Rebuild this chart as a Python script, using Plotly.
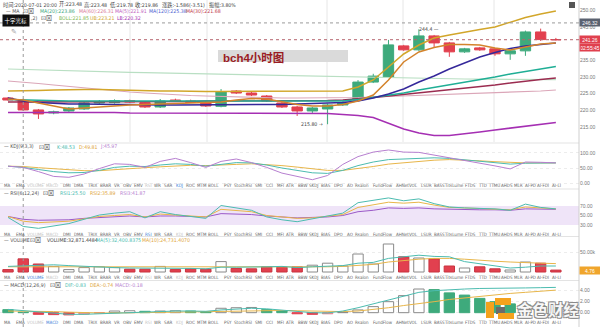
import plotly.graph_objects as go

W, H = 600, 327
def X(px): return px / W
def Y(py): return 1 - py / H

FONT = "Liberation Sans, Noto Sans CJK SC, sans-serif"
NARROW = "Liberation Sans Narrow, DejaVu Sans Condensed, Liberation Sans, Noto Sans CJK SC, sans-serif"
GREEN, RED = "#3eaa7c", "#e2404f"
TEAL, YEL, PURP = "#4cbcb0", "#e8b64a", "#b77fd0"

# ---------------- data ----------------
idx = list(range(37))
opens = [223.7, 222.9, 220.1, 219.2, 219.8, 220.4, 222.2, 222.3, 222.9, 222.3, 221.0, 223.1, 222.8, 222.4,
         221.2, 225.8, 225.2, 224.3, 222.2, 221.0, 219.8, 220.4, 221.6, 223.1, 228.5, 230.0, 239.4, 238.2,
         242.4, 240.3, 237.6, 238.8, 238.5, 237.0, 237.9, 243.6, 241.3]
highs = [224.0, 223.5, 220.4, 219.9, 221.0, 222.6, 223.1, 223.3, 223.2, 222.6, 223.4, 223.5, 223.2, 222.8,
         226.4, 226.1, 225.6, 224.6, 222.6, 221.3, 221.0, 222.0, 222.7, 229.1, 231.0, 241.2, 239.7, 244.4,
         242.7, 240.6, 238.8, 239.1, 238.8, 238.2, 244.0, 244.6, 241.8]
lows = [222.9, 219.8, 217.4, 218.8, 219.5, 220.1, 221.9, 222.0, 222.3, 220.7, 220.7, 222.6, 222.2, 221.0,
        220.9, 224.9, 224.3, 222.5, 220.7, 218.3, 219.2, 215.8, 221.3, 222.8, 228.2, 229.7, 237.9, 237.9,
        238.8, 236.1, 237.3, 237.9, 236.4, 235.2, 236.4, 240.9, 241.0]
closes = [223.1, 220.1, 218.9, 219.5, 220.7, 222.2, 222.5, 222.9, 222.5, 221.0, 222.8, 222.8, 222.4, 221.3,
          225.5, 225.2, 224.6, 222.8, 221.0, 219.8, 220.7, 221.6, 222.2, 228.5, 230.3, 239.7, 238.2, 242.4,
          240.3, 237.6, 238.5, 238.2, 237.0, 237.9, 243.6, 241.3, 241.26]

boll_ub = [225.81, 225.81, 225.96, 226.11, 226.27, 226.27, 226.27, 226.11, 226.11, 225.96, 225.81, 225.81,
           225.66, 225.66, 225.66, 225.66, 225.66, 225.66, 225.66, 225.66, 225.66, 225.81, 225.81, 227.02,
           229.13, 233.04, 236.96, 239.67, 241.78, 242.68, 243.58, 244.34, 245.09, 246.45, 247.95, 249.0, 249.91]
boll_lb = [219.34, 219.34, 219.49, 219.49, 219.49, 219.49, 219.34, 219.34, 219.19, 219.19, 219.19, 219.19,
           219.19, 219.19, 219.19, 219.19, 219.19, 219.19, 219.19, 219.19, 219.04, 219.04, 218.74, 218.43,
           217.83, 216.17, 214.37, 213.16, 212.41, 212.41, 212.86, 213.46, 214.07, 214.67, 215.27, 215.87, 216.33]
ma5 = [223.40, 223.10, 222.20, 221.30, 220.39, 220.69, 221.00, 221.45, 221.60, 221.75, 221.90, 222.05,
       222.20, 222.20, 222.50, 223.10, 223.55, 223.40, 222.50, 221.75, 221.30, 221.30, 221.75, 222.80,
       224.61, 229.13, 234.55, 237.56, 238.92, 239.82, 239.82, 239.67, 238.77, 238.16, 239.07, 239.97, 240.27]
ma10 = [223.71, 222.80, 222.35, 222.05, 221.90, 221.90, 221.75, 221.75, 221.75, 221.60, 221.60, 221.60,
        221.60, 221.60, 221.60, 221.60, 221.60, 221.60, 221.75, 221.90, 222.05, 222.20, 222.35, 222.80,
        223.71, 224.91, 226.42, 228.52, 230.33, 232.44, 234.25, 236.05, 237.41, 238.62, 239.37, 239.82, 240.27]
ma20 = [223.25, 223.10, 222.95, 222.95, 222.80, 222.80, 222.80, 222.80, 222.65, 222.65, 222.65, 222.65,
        222.65, 222.65, 222.65, 222.65, 222.65, 222.65, 222.65, 222.65, 222.65, 222.65, 222.80, 223.25,
        223.86, 224.61, 225.21, 226.11, 226.87, 227.62, 228.37, 229.28, 230.03, 230.93, 231.69, 232.44, 233.19]
ma30 = [222.50, 222.50, 222.50, 222.50, 222.50, 222.50, 222.50, 222.65, 222.65, 222.65, 222.65, 222.65,
        222.65, 222.80, 222.80, 222.80, 222.80, 222.80, 222.80, 222.95, 222.95, 222.95, 223.10, 223.40,
        223.86, 224.31, 224.76, 225.21, 225.66, 226.11, 226.57, 227.02, 227.62, 228.22, 228.83, 229.28, 229.73]
ma60 = [228.83, 228.52, 228.07, 227.62, 227.17, 226.72, 226.27, 225.81, 225.51, 225.21, 224.91, 224.61,
        224.46, 224.31, 224.16, 224.01, 223.86, 223.86, 223.71, 223.71, 223.71, 223.71, 223.71, 223.86,
        224.01, 224.16, 224.31, 224.46, 224.61, 224.76, 224.91, 225.06, 225.21, 225.51, 225.66, 225.81, 226.11]
ma120 = [232.44, 232.29, 232.14, 232.05, 231.93, 231.84, 231.69, 231.54, 231.45, 231.33, 231.24, 231.09,
         230.93, 230.84, 230.72, 230.63, 230.54, 230.45, 230.33, 230.24, 230.15, 230.03, 229.97, 229.88,
         229.82, 229.73, 229.67, 229.61, 229.55, 229.49, 229.43, 229.37, 229.34, 229.31, 229.28, 229.25, 229.22]

kdj_k = [56, 52, 45, 38, 34, 35, 42, 52, 56, 55, 60, 64, 62, 56, 62, 68, 67, 60, 50, 42, 34, 32, 42, 58,
         70, 78, 80, 83, 84, 82, 77, 71, 66, 63, 66, 67, 67]
kdj_d = [56, 55, 51, 47, 43, 41, 41, 45, 49, 51, 54, 57, 59, 58, 59, 62, 64, 62, 58, 53, 47, 42, 42, 48,
         55, 63, 68, 73, 76, 78, 77, 74, 71, 68, 67, 67, 67]
kdj_j = [56, 52, 38, 22, 19, 30, 48, 64, 62, 52, 72, 82, 68, 52, 72, 80, 68, 52, 33, 22, 11, 25, 62, 88,
         103, 110, 103, 102, 93, 85, 77, 68, 57, 47, 70, 69, 67]

rsi6 = [46, 27, 23, 28, 33, 42, 51, 55, 58, 45, 58, 52, 48, 44, 71, 66, 61, 47, 41, 37, 43, 50, 55, 77,
        82, 87, 81, 85, 75, 68, 66, 65, 64, 61, 74, 67, 64]
rsi12 = [48, 38, 35, 36, 38, 43, 48, 50, 52, 47, 53, 51, 49, 47, 63, 60, 58, 50, 47, 44, 45, 48, 52, 67,
         72, 78, 76, 78, 72, 67, 66, 65, 64, 62, 68, 66, 64]
rsi24 = [48, 42, 40, 40, 41, 44, 46, 48, 49, 47, 49, 49, 48, 47, 54, 53, 52, 49, 47, 45, 46, 47, 50, 58,
         61, 66, 65, 66, 64, 63, 63, 62, 62, 61, 64, 63, 63]

volume_k = [6, 32.9, 20, 14, 6, 11, 13, 11, 7, 7, 14, 6, 8, 7, 26, 9, 8, 13, 12, 13, 17, 22, 15, 45, 20,
            70, 38, 35, 33, 15, 10, 13, 8, 5, 25, 22, 4.76]
vol_ma5 = [14, 15, 17, 18, 16, 14, 12, 11, 10, 10, 10, 9, 9, 8, 12, 12, 12, 13, 14, 11, 13, 15, 16, 22,
           24, 34, 38, 42, 39, 38, 26, 21, 16, 10, 12, 15, 15]
vol_ma10 = [13, 13, 13, 13, 13, 13, 13, 12, 12, 12, 12, 12, 12, 12, 12, 12, 12, 12, 12, 12, 12, 13, 14,
            17, 19, 25, 29, 32, 34, 34, 32, 29, 27, 25, 23, 22, 21]

macd_hist = [0.55, 0.1, -0.3, -0.35, -0.4, -0.25, -0.05, 0.3, 0.35, 0.25, 0.3, 0.35, 0.3, 0.2, 0.8, 0.9,
             0.95, 0.55, 0.3, -0.2, -0.3, -0.2, 0.05, 0.5, 1.1, 2.0, 3.1, 4.3, 4.2, 3.6, 3.2, 2.6, 2.0,
             1.6, 1.4, 1.2, 1.0]
macd_dif = [0.6, 0.4, 0.1, -0.1, -0.3, -0.3, -0.2, 0.0, 0.1, 0.1, 0.2, 0.3, 0.3, 0.25, 0.5, 0.7, 0.8,
            0.7, 0.5, 0.2, 0.0, -0.05, 0.3, 0.9, 1.6, 2.4, 3.1, 3.7, 4.0, 4.2, 4.3, 4.4, 4.4, 4.45, 4.5,
            4.55, 4.6]
macd_dea = [0.3, 0.3, 0.25, 0.2, 0.1, 0.0, -0.05, -0.05, -0.05, 0.0, 0.05, 0.1, 0.15, 0.15, 0.2, 0.3,
            0.35, 0.4, 0.4, 0.35, 0.3, 0.25, 0.2, 0.3, 0.55, 0.9, 1.3, 1.6, 2.0, 2.4, 2.7, 3.0, 3.3, 3.5,
            3.7, 3.9, 4.1]

TABS = ["MA", "EMA", "VOLUME", "MACD", "DMI", "DMA", "TRIX", "BRAR", "VR", "OBV", "EMV", "RSI", "WR",
        "SAR", "KDJ", "ROC", "MTM", "BOLL", "PSY", "StochRSI", "SMI", "CCI", "MFI", "ATR", "BBW", "SKDJ",
        "BIAS", "DPO", "AO", "Rsalon", "FundFlow", "AHNetVOL", "LSUR", "BASS", "TitsLume", "FTDS", "TTD",
        "TTMU", "AHDS", "MLR", "AI-PD", "AI-FDI", "AI-LI"]
TAB_X = [7, 20, 35, 52, 67, 79, 92, 105, 117, 127, 138, 148, 158, 168, 179, 190, 202, 213, 228, 243, 258,
         269, 280, 290, 302, 314, 326, 339, 350, 362, 383, 407, 426, 439, 454, 470, 482, 494, 507, 518,
         530, 543, 556]

# ---------------- figure ----------------
fig = go.Figure()

fig.add_trace(go.Candlestick(
    x=idx, open=opens, high=highs, low=lows, close=closes, xaxis="x", yaxis="y",
    increasing=dict(line=dict(color=GREEN, width=1), fillcolor=GREEN),
    decreasing=dict(line=dict(color=RED, width=1), fillcolor=RED),
    whiskerwidth=0, hoverinfo="skip"))

main_lines = [
    (ma120, "#b9dfc3", 1.2), (ma60, "#dba6b8", 1.2), (ma30, "#9b2c50", 1.3),
    (ma20, "#1fae95", 1.4), (ma10, "#35289a", 1.5), (boll_lb, "#a52fb3", 1.6),
    (boll_ub, "#d2a62a", 1.5), (ma5, "#d4832c", 1.5)]
for vals, col, w in main_lines:
    fig.add_trace(go.Scatter(x=idx, y=vals, mode="lines", line=dict(color=col, width=w),
                             xaxis="x", yaxis="y", hoverinfo="skip"))

for vals, col in [(kdj_d, YEL), (kdj_k, TEAL), (kdj_j, PURP)]:
    fig.add_trace(go.Scatter(x=idx, y=vals, mode="lines", line=dict(color=col, width=1),
                             xaxis="x2", yaxis="y2", hoverinfo="skip"))

for vals, col in [(rsi24, "#9b59c8"), (rsi12, YEL), (rsi6, TEAL)]:
    fig.add_trace(go.Scatter(x=idx, y=vals, mode="lines", line=dict(color=col, width=1),
                             xaxis="x3", yaxis="y3", hoverinfo="skip"))

up = [c >= o for o, c in zip(opens, closes)]
fig.add_trace(go.Bar(
    x=idx, y=volume_k, width=0.68, xaxis="x4", yaxis="y4", hoverinfo="skip",
    marker=dict(color=["#ffffff" if u else RED for u in up],
                line=dict(color=["#8a8a8a" if u else "#c8323f" for u in up], width=1))))
for vals, col in [(vol_ma10, YEL), (vol_ma5, TEAL)]:
    fig.add_trace(go.Scatter(x=idx, y=vals, mode="lines", line=dict(color=col, width=1),
                             xaxis="x4", yaxis="y4", hoverinfo="skip"))

mfill, mline = [], []
for i, v in enumerate(macd_hist):
    prev = macd_hist[i - 1] if i > 0 else v + 0.1
    if v >= 0:
        if v >= prev:
            mfill.append("#ffffff"); mline.append("#8a8a8a")
        else:
            mfill.append(GREEN); mline.append(GREEN)
    else:
        if v <= prev:
            mfill.append(RED); mline.append(RED)
        else:
            mfill.append("#f2b8be"); mline.append("#e07a85")
fig.add_trace(go.Bar(x=idx, y=macd_hist, width=0.68, xaxis="x5", yaxis="y5", hoverinfo="skip",
                     marker=dict(color=mfill, line=dict(color=mline, width=1))))
for vals, col in [(macd_dea, YEL), (macd_dif, TEAL)]:
    fig.add_trace(go.Scatter(x=idx, y=vals, mode="lines", line=dict(color=col, width=1),
                             xaxis="x5", yaxis="y5", hoverinfo="skip"))

# ---------------- axes ----------------
XR = [-0.526, 37.52]
XD = [0, 579 / 600]
def xax(anchor):
    d = dict(range=XR, domain=XD, showgrid=False, showticklabels=False, zeroline=False,
             showline=False, ticks="", anchor=anchor, fixedrange=True)
    if anchor != "y":
        d["matches"] = "x"
    return d

def yax(py0, py1, rng, tv, tt, grid=False):
    return dict(domain=[Y(py1), Y(py0)], range=rng, side="right", anchor="x", showgrid=grid,
                gridcolor="#ececec", griddash="dot", zeroline=False, showline=False, ticks="",
                tickvals=tv, ticktext=tt, tickfont=dict(size=5, color="#777", family=FONT),
                fixedrange=True)

layout = dict(
    width=W, height=H, autosize=False, margin=dict(l=0, r=0, t=0, b=0),
    paper_bgcolor="#ffffff", plot_bgcolor="#ffffff", showlegend=False, bargap=0,
    boxgap=0.15, boxgroupgap=0.2,
    font=dict(family=FONT, size=5, color="#555"),
    xaxis=dict(**xax("y"), rangeslider=dict(visible=False)),
    xaxis2=xax("y2"), xaxis3=xax("y3"), xaxis4=xax("y4"), xaxis5=xax("y5"),
    yaxis=yax(0, 142, [210.45, 253.22], [215, 220, 225, 230, 235, 245, 250],
              ["215.00", "220.00", "225.00", "230.00", "235.00", "245.00", "250.00"]),
    yaxis2=yax(143, 187, [-13.3, 133.3], [0, 50, 100], ["0.00", "50.00", "100.00"], True),
    yaxis3=yax(189, 231, [17.4, 105.8], [30, 50, 70], ["30.00", "50.00", "70.00"]),
    yaxis4=yax(237, 275, [-7.5, 87.5], [50], ["50.00k"], True),
    yaxis5=yax(281, 320, [-1.33, 5.76], [0, 2, 4], ["0.00", "2.00", "4.00"], True),
)
for k in ["yaxis2", "yaxis3", "yaxis4", "yaxis5"]:
    layout[k]["anchor"] = "x" + k[-1]
fig.update_layout(**layout)

# ---------------- shapes ----------------
shapes = []
def hline(py, x0=0, x1=579, color="#e3e3e3", dash="solid", w=1):
    shapes.append(dict(type="line", xref="paper", yref="paper", x0=X(x0), x1=X(x1), y0=Y(py), y1=Y(py),
                       line=dict(color=color, width=w, dash=dash)))
def rect(x0, y0, x1, y1, fill, line=None, layer="above"):
    shapes.append(dict(type="rect", xref="paper", yref="paper", x0=X(x0), x1=X(x1), y0=Y(y1), y1=Y(y0),
                       fillcolor=fill, line=dict(width=0 if line is None else 1, color=line or fill),
                       layer=layer))

# RSI band
shapes.append(dict(type="rect", xref="paper", yref="y3", x0=0, x1=XD[1], y0=30, y1=70,
                   fillcolor="#efe4f8", line=dict(width=0), layer="below"))
# vertical grid lines in main panel
for gx in [130, 207, 327, 403, 494]:
    shapes.append(dict(type="line", xref="paper", yref="paper", x0=X(gx), x1=X(gx), y0=Y(142), y1=1,
                       line=dict(color="#e6e6e6", width=1), layer="below"))
# panel separators
for py in [143, 189, 236.5, 280.5]:
    hline(py)
# right axis line
shapes.append(dict(type="line", xref="paper", yref="paper", x0=XD[1], x1=XD[1], y0=0, y1=1,
                   line=dict(color="#cfcfcf", width=1)))
# crosshair
shapes.append(dict(type="line", xref="x", yref="paper", x0=1, x1=1, y0=0, y1=1,
                   line=dict(color="#9a9a9a", width=1, dash="dot")))
shapes.append(dict(type="line", xref="paper", yref="y", x0=0, x1=XD[1], y0=246.32, y1=246.32,
                   line=dict(color="#9a9a9a", width=1, dash="dot")))
# current price line
shapes.append(dict(type="line", xref="paper", yref="y", x0=0, x1=XD[1], y0=241.26, y1=241.26,
                   line=dict(color="#b5646e", width=1, dash="dot")))
# label box behind title
rect(218, 50, 348, 62, "#dadada", layer="below")
# small icon top right
rect(569, 2, 575, 8, "#555555")
# watermark logo blocks
rect(495, 298, 511, 305, "#f4a21d")
rect(486, 302, 494, 318, "#f4a21d")
rect(496, 307, 505, 314, "#6b6b6b")
rect(498, 313, 514, 319, "#f4a21d")
fig.update_layout(shapes=shapes)

# ---------------- annotations ----------------
anns = []
def ann(text, px, py, color="#555", size=5.2, xanchor="left", family=NARROW, **kw):
    d = dict(text=text, x=X(px), y=Y(py), xref="paper", yref="paper", xanchor=xanchor,
             yanchor="middle", showarrow=False, font=dict(size=size, color=color, family=family))
    d.update(kw)
    anns.append(d)

# main header rows
for t, px in [("时间:2020-07-01 20:00", 1), ("开:223.48", 57), ("高:223.48", 82), ("低:219.78", 108),
              ("收:219.86", 133), ("涨跌:-1.586(-3.51)", 160), ("振幅:3.80%", 207)]:
    ann(t, px, 4.5, "#444")
ann("— MA", 4, 11, "#555")
ann("⊡⊠", 21, 11, "#444", 6, family=FONT)
for t, px, c in [("MA(20):223.86", 38, "#3aa57a"), ("MA(60):226.31", 77, "#d97a96"),
                 ("MA(5):221.91", 113, "#c25fc0"), ("MA(120):225.38", 147, "#4a5bd0"),
                 ("MA(30):221.68", 184, "#c0394b")]:
    ann(t, px, 11, c)
ann(",2)", 29, 17.5, "#555")   # tail of the BOLL(20,2) label, the rest hidden by the tooltip
ann("⊡⊠", 39, 17.5, "#444", 6, family=FONT)
for t, px, c in [("BOLL:221.85", 57, "#7fb84f"), ("UB:223.21", 88, "#d2a62a"), ("LB:220.32", 115, "#a52fb3")]:
    ann(t, px, 17.5, c)
ann("十字光标", 15.5, 20, "#ffffff", 5.5, xanchor="center", family=FONT, bgcolor="#111111", borderpad=1.5)
ann("✎", 14, 31, "#999", 7, xanchor="center", family=FONT)

# title label
ann("<b>bch4小时图</b>", 221, 57, "#9a1c24", 11.5, family=FONT)
# extreme labels
ann("215.80 →", 325, 124, "#444", 5.2, xanchor="right")
ann("244.4 —", 417, 28.5, "#444", 5.2)

# right boxes
for t, py, bg in [("246.32", 22.7, "#5b6270"), ("241.26", 39.7, "#e0404e"),
                  ("02:55:45", 47, "#e0404e"), ("4.76", 270.5, "#f0a52c")]:
    ann(t, 590, py, "#ffffff", 5, xanchor="center", family=FONT, bgcolor=bg, width=19, borderpad=0.5)

# panel headers
def header(py, name, icon_x, items):
    ann(name, 2, py, "#555")
    ann("⊡⊠", icon_x, py, "#444", 6, family=FONT)
    for t, px, c in items:
        ann(t, px, py, c)

header(146.5, "— KDJ(9,3,3)", 37, [("K:48.53", 55, TEAL), ("D:49.81", 77, "#e0a53a"), ("J:45.97", 98, PURP)])
header(192.5, "— RSI(6,12,24)", 41, [("RSI1:25.50", 58, TEAL), ("RSI2:35.89", 88, "#e0a53a"),
                                      ("RSI3:41.87", 118, PURP)])
header(239.5, "— VOLUME", 28, [("VOLUME:32,871.4484", 45, "#444"), ("MA(5):32,400.8375", 94, TEAL),
                                ("MA(10):24,731.4070", 140, "#e0a53a")])
header(284.5, "— MACD(12,26,9)", 48, [("DIF:-0.83", 63, TEAL), ("DEA:-0.74", 88, "#e0a53a"),
                                       ("MACD:-0.18", 113, PURP)])

# indicator tab rows
ACTIVE = {"VOLUME", "MACD", "RSI", "KDJ"}
for py, own in [(185, "KDJ"), (234, "RSI"), (277.5, "VOLUME"), (322.5, "MACD")]:
    for name, px in zip(TABS, TAB_X):
        col = "#3d7fd9" if name == own else ("#c4c4c4" if name in ACTIVE else "#666")
        ann(name, px, py, col, 4.5, xanchor="center")

# watermark text (kept clear of the tab row and tick labels)
ann("<b>金色财经</b>", 548, 310, "rgba(255,255,255,0.95)", 15.5, xanchor="center", family=FONT)
anns[-1]["font"]["shadow"] = "-1px -1px 0 #8a8a8a, 1px -1px 0 #8a8a8a, -1px 1px 0 #8a8a8a, 1px 1px 0 #8a8a8a"

fig.update_layout(annotations=anns)
fig.write_html("out.html", config={"displayModeBar": False, "staticPlot": True})
